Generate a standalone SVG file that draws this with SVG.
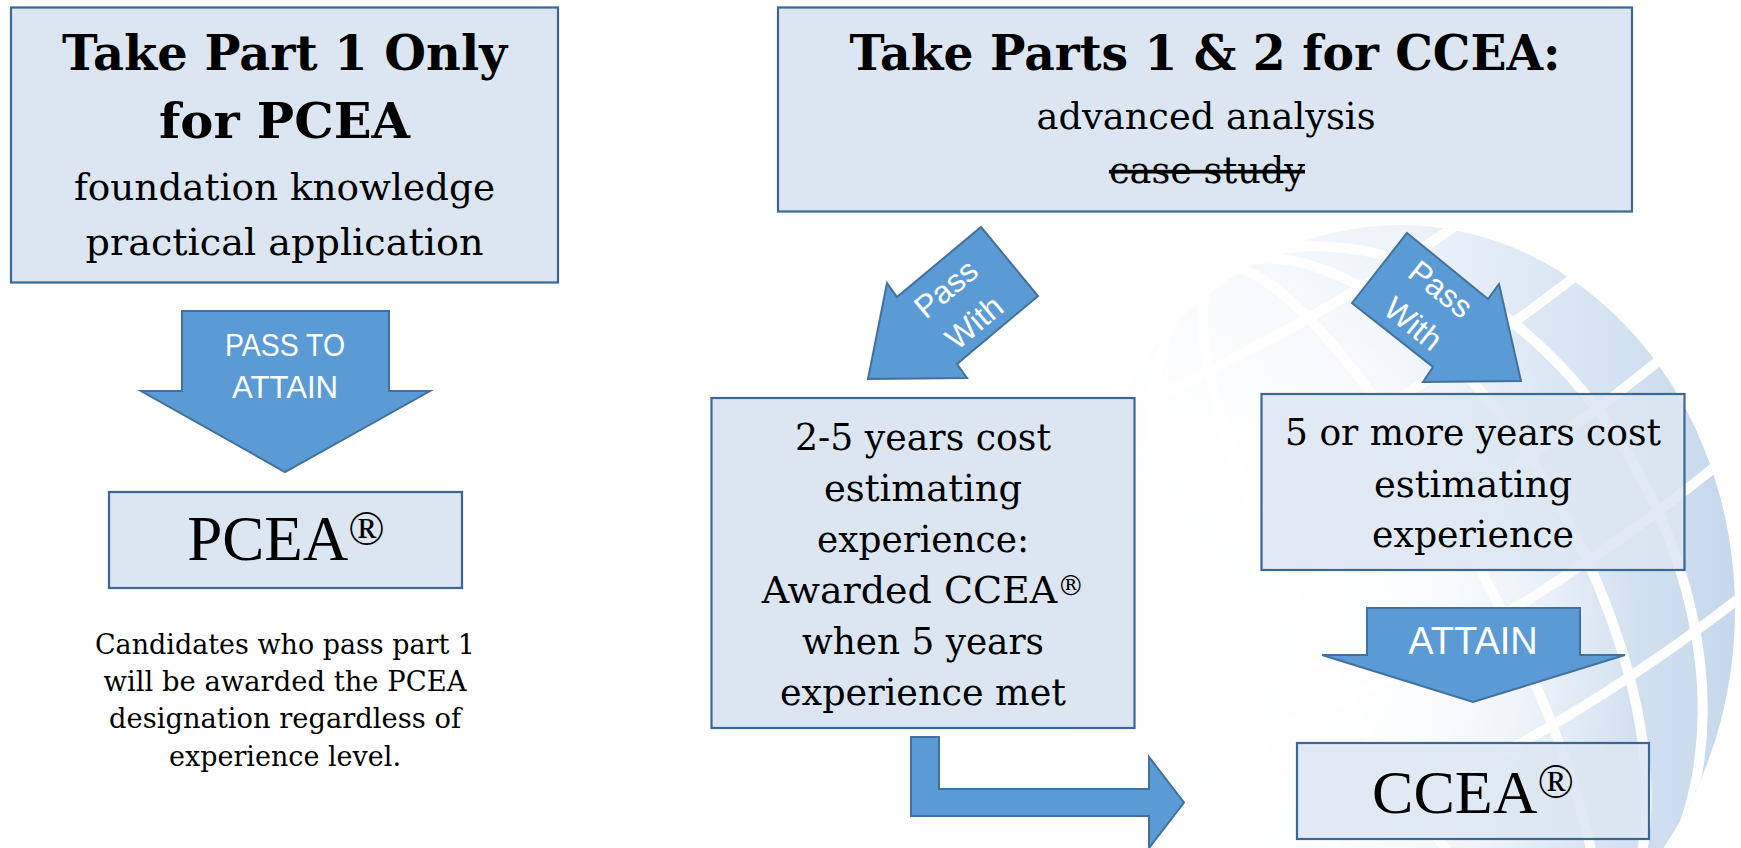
<svg xmlns="http://www.w3.org/2000/svg" width="1741" height="848" viewBox="0 0 1741 848">
<style>
.box{fill:#dce6f2;stroke:#3b6795;stroke-width:2.2}
.arrow{fill:#5b9bd5;stroke:#41719c;stroke-width:2}
.serif{font-family:"DejaVu Serif","Liberation Serif",serif;fill:#000;text-anchor:middle}
.bold{font-weight:bold}
.times{font-family:"Liberation Serif","Times New Roman",serif;fill:#000;text-anchor:middle}
.sans{font-family:"Liberation Sans",Arial,sans-serif;fill:#fff;text-anchor:middle}
</style>
<defs>
<clipPath id="gclip"><ellipse cx="1400" cy="610" rx="335" ry="385"/></clipPath>
<linearGradient id="gshade" x1="0" y1="0" x2="1" y2="0">
<stop offset="0" stop-color="#ffffff"/>
<stop offset="0.5" stop-color="#edf3fa"/>
<stop offset="1" stop-color="#c3d7ec"/>
</linearGradient>
<radialGradient id="gfade" cx="1210" cy="650" r="430" gradientUnits="userSpaceOnUse">
<stop offset="0" stop-color="#ffffff" stop-opacity="1"/>
<stop offset="0.5" stop-color="#ffffff" stop-opacity="0.85"/>
<stop offset="1" stop-color="#ffffff" stop-opacity="0"/>
</radialGradient>
</defs>
<rect width="1741" height="848" fill="#ffffff"/>
<g id="globe">
<g clip-path="url(#gclip)">
<rect x="1060" y="220" width="690" height="640" fill="url(#gshade)"/>
<g fill="none" stroke="#ffffff" stroke-width="10" transform="rotate(-28 1400 610)">
<ellipse cx="1400" cy="610" rx="90" ry="385"/>
<ellipse cx="1400" cy="610" rx="190" ry="385"/>
<ellipse cx="1400" cy="610" rx="275" ry="385"/>
<path d="M1000 380 Q1400 470 1800 380"/>
<path d="M1000 500 Q1400 590 1800 500"/>
<path d="M1000 620 Q1400 710 1800 620"/>
<path d="M1000 740 Q1400 830 1800 740"/>
<path d="M1000 270 Q1400 350 1800 270"/>
</g>
<rect x="1000" y="200" width="741" height="700" fill="url(#gfade)"/>
</g>
</g>

<g id="connectors">
<g id="arrow-pass-to-attain">
<polygon class="arrow" points="182,311 389,311 389,391 430,391 285,472 141,391 182,391"/>
<text class="sans" x="285" y="356" font-size="31" textLength="120" lengthAdjust="spacingAndGlyphs">PASS TO</text>
<text class="sans" x="285" y="398" font-size="31" textLength="106" lengthAdjust="spacingAndGlyphs">ATTAIN</text>
</g>
<g id="arrow-pass-with-left">
<polygon class="arrow" points="981,227 1038,296 957,364 967,378 868,379 887,283 897,297"/>
<g transform="translate(960,305.5) rotate(-40)">
<text class="sans" x="0" y="-11" font-size="32">Pass</text>
<text class="sans" x="0" y="33" font-size="32">With</text>
</g>
</g>
<g id="arrow-pass-with-right">
<polygon class="arrow" points="1407,233 1488,299 1499,284 1521,381 1423,382 1433,367 1352,303"/>
<g transform="translate(1427,306.5) rotate(38.5)">
<text class="sans" x="0" y="-11" font-size="32">Pass</text>
<text class="sans" x="0" y="33" font-size="32">With</text>
</g>
</g>
<g id="arrow-attain">
<polygon class="arrow" points="1367,608 1580,608 1580,655 1625,655 1473,702 1322,655 1367,655"/>
<text class="sans" x="1473" y="654" font-size="38">ATTAIN</text>
</g>
<g id="arrow-bent">
<polygon class="arrow" points="911,737 939,737 939,789 1149,789 1149,757 1184,802.5 1149,848 1149,816 911,816"/>
</g>
</g>

<g id="node-part1">
<rect class="box" x="11" y="7.5" width="547" height="275"/>
<text class="serif bold" x="284.5" y="70" font-size="48" textLength="445" lengthAdjust="spacingAndGlyphs">Take Part 1 Only</text>
<text class="serif bold" x="284.5" y="138" font-size="48" textLength="251" lengthAdjust="spacingAndGlyphs">for PCEA</text>
<text class="serif" x="284.5" y="200" font-size="37" textLength="421" lengthAdjust="spacingAndGlyphs">foundation knowledge</text>
<text class="serif" x="284.5" y="255" font-size="37" textLength="398" lengthAdjust="spacingAndGlyphs">practical application</text>
</g>

<g id="node-pcea">
<rect class="box" x="109" y="492" width="353" height="96"/>
<text class="times" x="286" y="560" font-size="63">PCEA<tspan font-size="48" dy="-15">®</tspan></text>
</g>

<g id="note-pcea">
<text class="serif" x="285" y="654" font-size="27" textLength="380" lengthAdjust="spacingAndGlyphs">Candidates who pass part 1</text>
<text class="serif" x="285" y="691" font-size="27" textLength="363" lengthAdjust="spacingAndGlyphs">will be awarded the PCEA</text>
<text class="serif" x="285" y="728" font-size="27" textLength="352" lengthAdjust="spacingAndGlyphs">designation regardless of</text>
<text class="serif" x="285" y="766" font-size="27" textLength="232" lengthAdjust="spacingAndGlyphs">experience level.</text>
</g>

<g id="node-parts12">
<rect class="box" x="778" y="7.5" width="854" height="204"/>
<text class="serif bold" x="1205" y="70" font-size="48" textLength="711" lengthAdjust="spacingAndGlyphs">Take Parts 1 &amp; 2 for CCEA:</text>
<text class="serif" x="1206" y="129" font-size="37" textLength="339" lengthAdjust="spacingAndGlyphs">advanced analysis</text>
<text class="serif" x="1207" y="183" font-size="37" textLength="196" lengthAdjust="spacingAndGlyphs" text-decoration="line-through">case study</text>
</g>

<g id="node-2to5">
<rect class="box" x="711.5" y="398" width="423" height="330"/>
<text class="serif" x="923" y="450" font-size="38" textLength="256" lengthAdjust="spacingAndGlyphs">2-5 years cost</text>
<text class="serif" x="923" y="501" font-size="38" textLength="198" lengthAdjust="spacingAndGlyphs">estimating</text>
<text class="serif" x="923" y="552" font-size="38" textLength="212" lengthAdjust="spacingAndGlyphs">experience:</text>
<text class="serif" x="923" y="603" font-size="38">Awarded CCEA<tspan font-size="27" dy="-8">®</tspan></text>
<text class="serif" x="923" y="654" font-size="38" textLength="242" lengthAdjust="spacingAndGlyphs">when 5 years</text>
<text class="serif" x="923" y="705" font-size="38" textLength="286" lengthAdjust="spacingAndGlyphs">experience met</text>
</g>

<g id="node-5plus">
<rect class="box" x="1261.5" y="394" width="423" height="176" fill-opacity="0.85"/>
<text class="serif" x="1473" y="445" font-size="38" textLength="376" lengthAdjust="spacingAndGlyphs">5 or more years cost</text>
<text class="serif" x="1473" y="497" font-size="38" textLength="198" lengthAdjust="spacingAndGlyphs">estimating</text>
<text class="serif" x="1473" y="547" font-size="38" textLength="202" lengthAdjust="spacingAndGlyphs">experience</text>
</g>

<g id="node-ccea">
<rect class="box" x="1297" y="743" width="352" height="96" fill-opacity="0.85"/>
<text class="times" x="1473" y="813" font-size="62">CCEA<tspan font-size="48" dy="-15">®</tspan></text>
</g>
</svg>
